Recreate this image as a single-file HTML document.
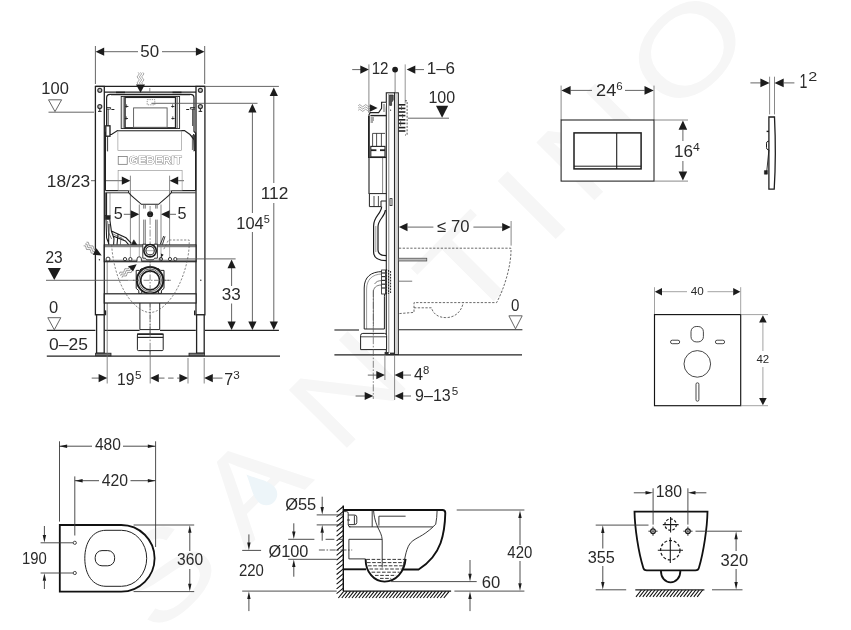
<!DOCTYPE html>
<html lang="en"><head><meta charset="utf-8"><title>Geberit Duofix set – technical drawing</title>
<style>
html,body{margin:0;padding:0;background:#fff;}
body{width:851px;height:630px;overflow:hidden;}
svg{display:block;will-change:transform;font-family:"Liberation Sans",sans-serif;}
</style></head><body>
<svg width="851" height="630" viewBox="0 0 851 630">
<rect width="851" height="630" fill="#fff"/>
<g transform="rotate(-45) scale(1.25,1)"><text x="-232.8 -132.8 -24.0 114.4 184.8 256.0 360.8" y="562" font-size="119" text-anchor="middle" fill="#f6f6f6">SANTINO</text></g>
<g transform="translate(262,490) rotate(-45)"><path d="M0,-22 C5,-10 11,-3 11,6 A11,11 0 1 1 -11,6 C-11,-3 -5,-10 0,-22 Z" fill="#edf5f9"/></g>
<line x1="95.4" y1="46.0" x2="95.4" y2="84.0" stroke="#555" stroke-width="0.9" />
<line x1="204.7" y1="46.0" x2="204.7" y2="84.0" stroke="#555" stroke-width="0.9" />
<line x1="103.0" y1="51.7" x2="138.0" y2="51.7" stroke="#555" stroke-width="0.9" />
<line x1="162.0" y1="51.7" x2="197.0" y2="51.7" stroke="#555" stroke-width="0.9" />
<polygon points="95.6,51.7 104.2,47.6 104.2,55.8" fill="#1c1c1c"/>
<polygon points="204.5,51.7 195.9,47.6 195.9,55.8" fill="#1c1c1c"/>
<text x="149.7" y="56.6" font-size="16.3" text-anchor="middle" textLength="18.8" lengthAdjust="spacingAndGlyphs" fill="#2a2a2a" font-weight="normal">50</text>
<text x="55.1" y="94.1" font-size="16.3" text-anchor="middle" textLength="27.5" lengthAdjust="spacingAndGlyphs" fill="#2a2a2a" font-weight="normal">100</text>
<polygon points="48.5,99.8 61.6,99.8 55.0,111.6" fill="#fff" stroke="#555" stroke-width="0.9"/>
<line x1="48.5" y1="112.2" x2="94.0" y2="112.2" stroke="#555" stroke-width="0.9" />
<line x1="205.6" y1="86.4" x2="278.9" y2="86.4" stroke="#555" stroke-width="0.9" />
<line x1="273.8" y1="95.0" x2="273.8" y2="183.0" stroke="#555" stroke-width="0.9" />
<line x1="273.8" y1="203.0" x2="273.8" y2="322.0" stroke="#555" stroke-width="0.9" />
<polygon points="273.8,87.4 269.7,96.0 277.9,96.0" fill="#1c1c1c"/>
<polygon points="273.8,330.0 269.7,321.4 277.9,321.4" fill="#1c1c1c"/>
<text x="274.5" y="199.2" font-size="16.3" text-anchor="middle" textLength="27.6" lengthAdjust="spacingAndGlyphs" fill="#2a2a2a" font-weight="normal">112</text>
<line x1="252.4" y1="111.0" x2="252.4" y2="213.0" stroke="#555" stroke-width="0.9" />
<line x1="252.4" y1="232.0" x2="252.4" y2="322.0" stroke="#555" stroke-width="0.9" />
<polygon points="252.4,103.8 248.3,112.4 256.5,112.4" fill="#1c1c1c"/>
<polygon points="252.4,330.0 248.3,321.4 256.5,321.4" fill="#1c1c1c"/>
<text x="250.0" y="228.8" font-size="16.3" text-anchor="middle" textLength="27.4" lengthAdjust="spacingAndGlyphs" fill="#2a2a2a" font-weight="normal">104</text>
<text x="266.7" y="223.2" font-size="10" text-anchor="middle" textLength="6.1" lengthAdjust="spacingAndGlyphs" fill="#2a2a2a" font-weight="normal">5</text>
<line x1="231.6" y1="267.0" x2="231.6" y2="286.0" stroke="#555" stroke-width="0.9" />
<line x1="231.6" y1="303.5" x2="231.6" y2="322.0" stroke="#555" stroke-width="0.9" />
<polygon points="231.6,259.6 227.5,268.2 235.7,268.2" fill="#1c1c1c"/>
<polygon points="231.6,330.0 227.5,321.4 235.7,321.4" fill="#1c1c1c"/>
<text x="231.2" y="300.3" font-size="16.3" text-anchor="middle" textLength="19.0" lengthAdjust="spacingAndGlyphs" fill="#2a2a2a" font-weight="normal">33</text>
<line x1="46.8" y1="330.4" x2="95.4" y2="330.4" stroke="#222" stroke-width="1.1" />
<line x1="104.4" y1="330.4" x2="139.6" y2="330.4" stroke="#222" stroke-width="1.1" />
<line x1="160.0" y1="330.4" x2="195.8" y2="330.4" stroke="#222" stroke-width="1.1" />
<line x1="205.0" y1="330.4" x2="278.9" y2="330.4" stroke="#222" stroke-width="1.1" />
<line x1="46.8" y1="356.1" x2="280.0" y2="356.1" stroke="#222" stroke-width="1.1" />
<text x="54.1" y="262.6" font-size="16.3" text-anchor="middle" textLength="17.2" lengthAdjust="spacingAndGlyphs" fill="#2a2a2a" font-weight="normal">23</text>
<polygon points="47.8,267.9 60.8,267.9 54.3,280.0" fill="#1c1c1c"/>
<line x1="128.5" y1="280.3" x2="171.0" y2="280.3" stroke="#555" stroke-width="0.7" stroke-dasharray="6 1.5 1.5 1.5"/>
<text x="53.7" y="313.2" font-size="16.3" text-anchor="middle" textLength="9.2" lengthAdjust="spacingAndGlyphs" fill="#2a2a2a" font-weight="normal">0</text>
<polygon points="47.8,317.7 60.8,317.7 54.3,329.8" fill="#fff" stroke="#555" stroke-width="0.9"/>
<text x="68.5" y="350.4" font-size="16.3" text-anchor="middle" textLength="38.8" lengthAdjust="spacingAndGlyphs" fill="#2a2a2a" font-weight="normal">0–25</text>
<text x="68.5" y="187.2" font-size="16.3" text-anchor="middle" textLength="43.3" lengthAdjust="spacingAndGlyphs" fill="#2a2a2a" font-weight="normal">18/23</text>
<line x1="91.0" y1="180.7" x2="122.0" y2="180.7" stroke="#555" stroke-width="0.9" />
<polygon points="130.4,180.7 121.8,176.6 121.8,184.8" fill="#1c1c1c"/>
<polygon points="169.6,180.7 178.2,176.6 178.2,184.8" fill="#1c1c1c"/>
<line x1="178.0" y1="180.7" x2="184.0" y2="180.7" stroke="#555" stroke-width="0.9" />
<line x1="130.4" y1="175.7" x2="130.4" y2="258.0" stroke="#6a6a6a" stroke-width="0.8" />
<line x1="169.6" y1="175.7" x2="169.6" y2="258.0" stroke="#6a6a6a" stroke-width="0.8" />
<text x="118.2" y="219.4" font-size="16.3" text-anchor="middle" textLength="9.0" lengthAdjust="spacingAndGlyphs" fill="#2a2a2a" font-weight="normal">5</text>
<text x="181.9" y="219.4" font-size="16.3" text-anchor="middle" textLength="9.0" lengthAdjust="spacingAndGlyphs" fill="#2a2a2a" font-weight="normal">5</text>
<line x1="123.8" y1="214.3" x2="131.0" y2="214.3" stroke="#555" stroke-width="0.9" />
<polygon points="139.3,214.3 130.7,210.2 130.7,218.4" fill="#1c1c1c"/>
<polygon points="161.0,214.3 169.6,210.2 169.6,218.4" fill="#1c1c1c"/>
<line x1="169.5" y1="214.3" x2="176.0" y2="214.3" stroke="#555" stroke-width="0.9" />
<circle cx="150.1" cy="214.3" r="3.0" stroke="none" stroke-width="0" fill="#1c1c1c" />
<line x1="139.3" y1="204.5" x2="139.3" y2="258.0" stroke="#6a6a6a" stroke-width="0.8" />
<line x1="161.0" y1="204.5" x2="161.0" y2="258.0" stroke="#6a6a6a" stroke-width="0.8" />
<rect x="95.4" y="86.4" width="8.9" height="228.4" rx="0" stroke="#222" stroke-width="1.3" fill="#fff" />
<rect x="196.0" y="86.4" width="8.9" height="228.4" rx="0" stroke="#222" stroke-width="1.3" fill="#fff" />
<line x1="95.4" y1="86.4" x2="204.9" y2="86.4" stroke="#222" stroke-width="1.3" />
<line x1="104.3" y1="92.1" x2="196.0" y2="92.1" stroke="#222" stroke-width="1.1" />
<rect x="96.6" y="314.8" width="7.6" height="38.4" rx="0" stroke="#222" stroke-width="1.3" fill="#fff" />
<rect x="196.6" y="314.8" width="7.6" height="38.4" rx="0" stroke="#222" stroke-width="1.3" fill="#fff" />
<line x1="104.2" y1="311.0" x2="105.6" y2="311.0" stroke="#222" stroke-width="1.2" />
<line x1="105.6" y1="310.6" x2="105.6" y2="315.2" stroke="#222" stroke-width="1.2" />
<line x1="194.6" y1="310.6" x2="194.6" y2="315.2" stroke="#222" stroke-width="1.2" />
<rect x="95.6" y="353.2" width="15.4" height="2.6" rx="0" stroke="#222" stroke-width="0.8" fill="#777" />
<rect x="189.0" y="353.2" width="15.4" height="2.6" rx="0" stroke="#222" stroke-width="0.8" fill="#777" />
<line x1="107.2" y1="262.0" x2="107.2" y2="383.5" stroke="#6a6a6a" stroke-width="0.8" />
<circle cx="99.8" cy="90.3" r="2.0" stroke="#333" stroke-width="1.2" fill="#c8c8c8" />
<circle cx="99.8" cy="106.6" r="2.0" stroke="#333" stroke-width="1.2" fill="#c8c8c8" />
<line x1="99.8" y1="108.6" x2="99.8" y2="111.4" stroke="#333" stroke-width="1.1" />
<line x1="98.0" y1="111.4" x2="101.6" y2="111.4" stroke="#333" stroke-width="1.1" />
<circle cx="200.4" cy="90.3" r="2.0" stroke="#333" stroke-width="1.2" fill="#c8c8c8" />
<circle cx="200.4" cy="106.6" r="2.0" stroke="#333" stroke-width="1.2" fill="#c8c8c8" />
<line x1="200.4" y1="108.6" x2="200.4" y2="111.4" stroke="#333" stroke-width="1.1" />
<line x1="198.6" y1="111.4" x2="202.2" y2="111.4" stroke="#333" stroke-width="1.1" />
<path d="M105.4,190.6 V133 l1.2,-1.6 V98 q0,-3.6 3.6,-3.6 H190.4 q3.6,0 3.6,3.6 V131.4 l1.6,1.6 V190.6" stroke="#222" stroke-width="1.2" fill="none" />
<line x1="105.4" y1="190.6" x2="128.6" y2="190.6" stroke="#222" stroke-width="1.2" />
<line x1="171.4" y1="190.6" x2="195.6" y2="190.6" stroke="#222" stroke-width="1.2" />
<path d="M128.6,190.6 V192.6 L131.4,195.7 L141.4,204.3 H158.6 L168.6,195.7 L171.4,192.6 V190.6" stroke="#222" stroke-width="1.1" fill="none" />
<line x1="105.4" y1="192.8" x2="128.6" y2="192.8" stroke="#222" stroke-width="0.9" />
<line x1="171.4" y1="192.8" x2="195.6" y2="192.8" stroke="#222" stroke-width="0.9" />
<path d="M107,134.5 L111.5,134.5 L117.5,130.6 H184.5 L190,134.5 L194.5,140" stroke="#222" stroke-width="1.2" fill="none" />
<line x1="111.0" y1="94.6" x2="190.0" y2="94.6" stroke="#222" stroke-width="1.1" />
<rect x="121.2" y="96.5" width="58.4" height="32.0" rx="0" stroke="#222" stroke-width="0.9" fill="#fff" />
<rect x="125.0" y="97.3" width="50.6" height="30.6" rx="0" stroke="#222" stroke-width="1.5" fill="#fff" />
<line x1="123.3" y1="96.5" x2="123.3" y2="128.5" stroke="#555" stroke-width="0.7" />
<line x1="177.5" y1="96.5" x2="177.5" y2="128.5" stroke="#555" stroke-width="0.7" />
<rect x="133.6" y="107.9" width="33.5" height="19.4" rx="0" stroke="#555" stroke-width="0.9" fill="#fff" />
<line x1="125.2" y1="106.5" x2="128.4" y2="106.5" stroke="#222" stroke-width="0.9" />
<line x1="126.6" y1="104.3" x2="126.6" y2="107.7" stroke="#222" stroke-width="0.7" />
<line x1="171.2" y1="106.5" x2="174.4" y2="106.5" stroke="#222" stroke-width="0.9" />
<line x1="172.6" y1="104.3" x2="172.6" y2="107.7" stroke="#222" stroke-width="0.7" />
<line x1="124.8" y1="118.5" x2="128.0" y2="118.5" stroke="#222" stroke-width="0.9" />
<line x1="126.2" y1="116.3" x2="126.2" y2="119.7" stroke="#222" stroke-width="0.7" />
<line x1="171.4" y1="118.5" x2="174.6" y2="118.5" stroke="#222" stroke-width="0.9" />
<line x1="172.8" y1="116.3" x2="172.8" y2="119.7" stroke="#222" stroke-width="0.7" />
<rect x="147.2" y="99.6" width="7.6" height="5.2" rx="0" stroke="#555" stroke-width="0.6" fill="none" stroke-dasharray="1.3 1"/>
<line x1="151.4" y1="103.3" x2="257.5" y2="103.3" stroke="#555" stroke-width="0.9" />
<line x1="116.0" y1="92.4" x2="125.0" y2="92.4" stroke="#222" stroke-width="1.5" />
<line x1="172.5" y1="92.4" x2="181.5" y2="92.4" stroke="#222" stroke-width="1.5" />
<line x1="149.8" y1="88.0" x2="149.8" y2="91.6" stroke="#555" stroke-width="0.7" />
<path d="M106,107.5 h4.6 v1.6 h-4.6 M108.2,109 v17" stroke="#222" stroke-width="0.8" fill="none" />
<path d="M195,107.5 h-4.6 v1.6 h4.6 M192.6,109 v17" stroke="#222" stroke-width="0.8" fill="none" />
<line x1="111.4" y1="109.5" x2="114.4" y2="109.5" stroke="#222" stroke-width="1" />
<line x1="186.2" y1="109.5" x2="189.2" y2="109.5" stroke="#222" stroke-width="1" />
<rect x="105.8" y="125.8" width="4.2" height="10.4" rx="0" stroke="#1c1c1c" stroke-width="1.3" fill="#fff" />
<path d="M107.6,136.4 v15 M105.6,138 v13" stroke="#222" stroke-width="0.9" fill="none" />
<path d="M193.6,134 l1.8,3.6 v12 l-1.4,1.6 z" stroke="#222" stroke-width="0.9" fill="#444" />
<line x1="192.4" y1="135.0" x2="192.4" y2="150.0" stroke="#222" stroke-width="0.7" />
<rect x="117.9" y="130.8" width="63.5" height="19.8" rx="0" stroke="#8a8a8a" stroke-width="0.6" fill="none" />
<rect x="118.1" y="170.3" width="64.0" height="20.3" rx="0" stroke="#8a8a8a" stroke-width="0.6" fill="none" />
<rect x="118.2" y="156.5" width="9.0" height="7.8" rx="0" stroke="#666" stroke-width="0.7" fill="none" />
<text x="155.4" y="164.4" font-size="11.2" font-weight="bold" text-anchor="middle" textLength="53" lengthAdjust="spacingAndGlyphs" fill="#fff" stroke="#555" stroke-width="0.7" paint-order="stroke">GEBERIT</text>
<polygon points="136.0,84.4 145.0,84.4 140.5,92.8" fill="#1c1c1c"/>
<g transform="translate(140.5,84.4) rotate(90)">
<path d="M-12.0,-2.3 q1.5,-2.2 3,0 t3,0 t3,0 t3,0" stroke="#5a5a5a" stroke-width="0.55" fill="none"/>
<path d="M-12.0,0.0 q1.5,-2.2 3,0 t3,0 t3,0 t3,0" stroke="#5a5a5a" stroke-width="0.55" fill="none"/>
<path d="M-12.0,2.3 q1.5,-2.2 3,0 t3,0 t3,0 t3,0" stroke="#5a5a5a" stroke-width="0.55" fill="none"/>
</g>
<line x1="143.8" y1="204.3" x2="143.8" y2="208.6" stroke="#555" stroke-width="0.9" />
<line x1="143.8" y1="219.6" x2="143.8" y2="244.8" stroke="#555" stroke-width="0.9" />
<line x1="145.4" y1="204.3" x2="145.4" y2="208.6" stroke="#555" stroke-width="0.7" />
<line x1="145.4" y1="219.6" x2="145.4" y2="244.8" stroke="#555" stroke-width="0.7" />
<line x1="155.6" y1="204.3" x2="155.6" y2="208.6" stroke="#555" stroke-width="0.7" />
<line x1="155.6" y1="219.6" x2="155.6" y2="244.8" stroke="#555" stroke-width="0.7" />
<line x1="157.1" y1="204.3" x2="157.1" y2="208.6" stroke="#555" stroke-width="0.9" />
<line x1="157.1" y1="219.6" x2="157.1" y2="244.8" stroke="#555" stroke-width="0.9" />
<line x1="150.1" y1="206.0" x2="150.1" y2="356.0" stroke="#666" stroke-width="0.7" stroke-dasharray="7 1.6 1.6 1.6"/>
<line x1="106.2" y1="192.8" x2="106.2" y2="216.0" stroke="#222" stroke-width="1.8" />
<line x1="110.0" y1="193.0" x2="110.0" y2="215.6" stroke="#666" stroke-width="0.6" />
<rect x="105.2" y="215.6" width="5.0" height="3.8" rx="0" stroke="#222" stroke-width="0.6" fill="#222" />
<path d="M106,219.5 L106.6,238 M109.8,219.5 L111.4,231 L114,238.5 M106.6,238 L109,244 M111.4,231 L126,237.8 L131.4,243.4 M113,236 L125.4,241 L128.6,244.6 M109,224 L108.6,244.5 M114,238.5 L113.6,244.6 M118,234.4 L117,244.6" stroke="#1c1c1c" stroke-width="1.1" fill="none" />
<path d="M107.6,221 L108.4,232 L111.6,239 M112.4,233.6 L124,239.6 M121,236.6 L120.4,244.6" stroke="#444" stroke-width="0.7" fill="none" />
<path d="M131.4,244.8 l2.4,-5 l3.2,5 z" stroke="#222" stroke-width="0.6" fill="#1c1c1c" />
<path d="M163.8,236 L160.2,244.4 M165,236.4 L162.4,244.6" stroke="#222" stroke-width="0.9" fill="none" />
<rect x="104.3" y="245.0" width="91.7" height="16.7" rx="0" stroke="#222" stroke-width="1.2" fill="#fff" />
<line x1="104.3" y1="246.7" x2="196.0" y2="246.7" stroke="#222" stroke-width="0.7" />
<line x1="104.3" y1="260.3" x2="196.0" y2="260.3" stroke="#222" stroke-width="0.7" />
<line x1="130.4" y1="245.0" x2="130.4" y2="258.0" stroke="#777" stroke-width="0.6" />
<line x1="139.3" y1="245.0" x2="139.3" y2="258.0" stroke="#777" stroke-width="0.6" />
<line x1="161.0" y1="245.0" x2="161.0" y2="258.0" stroke="#777" stroke-width="0.6" />
<line x1="169.6" y1="245.0" x2="169.6" y2="258.0" stroke="#777" stroke-width="0.6" />
<path d="M142.8,244.2 h3.2 v9 q4,4.4 8,0 v-9 h3.4 v14 h-2.8 l-1.2,1.6 h-6.8 l-1.2,-1.6 h-2.6 z" stroke="#222" stroke-width="0.9" fill="#fff" />
<circle cx="150.1" cy="250.7" r="6.2" stroke="#1c1c1c" stroke-width="1.6" fill="#fff" />
<circle cx="150.1" cy="250.7" r="4.2" stroke="#222" stroke-width="1.1" fill="#fff" />
<line x1="146.0" y1="250.7" x2="154.4" y2="250.7" stroke="#666" stroke-width="0.5" />
<circle cx="108.0" cy="259.1" r="2.0" stroke="#222" stroke-width="0.9" fill="#fff" />
<circle cx="125.0" cy="259.1" r="1.6" stroke="#222" stroke-width="0.9" fill="#fff" />
<circle cx="130.4" cy="259.1" r="1.6" stroke="#222" stroke-width="0.9" fill="#fff" />
<circle cx="160.9" cy="259.1" r="1.7" stroke="#222" stroke-width="0.9" fill="#fff" />
<circle cx="170.0" cy="259.1" r="1.6" stroke="#222" stroke-width="0.9" fill="#fff" />
<circle cx="175.3" cy="259.1" r="1.6" stroke="#222" stroke-width="0.9" fill="#fff" />
<path d="M137,261.4 v-2.4 a2.2,2.2 0 0 1 4.4,0 v2.4" stroke="#222" stroke-width="0.9" fill="#fff" />
<circle cx="160.9" cy="259.1" r="0.8" stroke="none" stroke-width="0" fill="#333" />
<circle cx="99.4" cy="259.8" r="0.7" fill="#333"/>
<circle cx="200.8" cy="280.3" r="0.7" fill="#333"/>
<polygon points="101.7,255.6 96.4,248.2 92.7,254.7" fill="#1c1c1c"/>
<g transform="translate(94.5,251.4) rotate(38)">
<path d="M-12.0,-2.3 q1.5,-2.2 3,0 t3,0 t3,0 t3,0" stroke="#5a5a5a" stroke-width="0.55" fill="none"/>
<path d="M-12.0,0.0 q1.5,-2.2 3,0 t3,0 t3,0 t3,0" stroke="#5a5a5a" stroke-width="0.55" fill="none"/>
<path d="M-12.0,2.3 q1.5,-2.2 3,0 t3,0 t3,0 t3,0" stroke="#5a5a5a" stroke-width="0.55" fill="none"/>
</g>
<polygon points="136.7,264.2 128,266.3 133,271.6" fill="#1c1c1c"/>
<g transform="translate(130.5,268.9) rotate(-35)">
<path d="M-12.0,-2.3 q1.5,-2.2 3,0 t3,0 t3,0 t3,0" stroke="#5a5a5a" stroke-width="0.55" fill="none"/>
<path d="M-12.0,0.0 q1.5,-2.2 3,0 t3,0 t3,0 t3,0" stroke="#5a5a5a" stroke-width="0.55" fill="none"/>
<path d="M-12.0,2.3 q1.5,-2.2 3,0 t3,0 t3,0 t3,0" stroke="#5a5a5a" stroke-width="0.55" fill="none"/>
</g>
<polygon points="161.2,257.4 160.9,253.6 163.6,254.8" fill="#1c1c1c"/>
<line x1="176.7" y1="258.9" x2="235.6" y2="258.9" stroke="#555" stroke-width="0.9" />
<line x1="46.0" y1="280.3" x2="128.5" y2="280.3" stroke="#555" stroke-width="0.9" />
<path d="M136.2,270.4 h3.4 l1.6,-1.6 h17.8 l1.6,1.6 h3.4 v18 l-2.6,2.2 v2.8 h-3 v-2.2 h-16.6 v2.2 h-3 v-2.8 l-2.6,-2.2 z" stroke="#222" stroke-width="1.0" fill="#fff" />
<circle cx="150.1" cy="280.3" r="13.2" stroke="#1c1c1c" stroke-width="2.0" fill="#fff" />
<circle cx="150.1" cy="280.3" r="11.3" stroke="#222" stroke-width="0.7" fill="#fff" />
<circle cx="150.1" cy="280.3" r="9.5" stroke="#1c1c1c" stroke-width="1.7" fill="#fff" />
<line x1="133.0" y1="280.3" x2="171.0" y2="280.3" stroke="#555" stroke-width="0.7" stroke-dasharray="6 1.5 1.5 1.5"/>
<line x1="150.1" y1="264.0" x2="150.1" y2="300.0" stroke="#555" stroke-width="0.7" stroke-dasharray="6 1.5 1.5 1.5"/>
<rect x="104.3" y="293.8" width="91.7" height="9.2" rx="0" stroke="#222" stroke-width="1.2" fill="#fff" />
<path d="M139.9,303 V329.6 H159.7 V303" stroke="#222" stroke-width="1.0" fill="none" />
<line x1="150.1" y1="303.0" x2="150.1" y2="356.0" stroke="#555" stroke-width="0.7" stroke-dasharray="7 1.6 1.6 1.6"/>
<rect x="137.4" y="334.0" width="25.8" height="16.6" rx="1" stroke="#222" stroke-width="1.0" fill="#fff" />
<line x1="137.0" y1="334.2" x2="163.6" y2="334.2" stroke="#222" stroke-width="1.5" />
<line x1="137.4" y1="337.4" x2="163.2" y2="337.4" stroke="#222" stroke-width="1.2" />
<line x1="150.1" y1="331.0" x2="150.1" y2="352.0" stroke="#555" stroke-width="0.7" stroke-dasharray="7 1.6 1.6 1.6"/>
<path d="M111.7,245 C112.5,262 118,283 128,297 C135,306.5 143,312.5 150.1,312.5 C157,312.5 165,306.5 172,297 C182,283 188.6,262 189.2,245 V240 H168.5 L163.4,250" stroke="#555" stroke-width="0.7" fill="none" stroke-dasharray="2.2 1.5"/>
<line x1="150.2" y1="357.0" x2="150.2" y2="383.5" stroke="#6a6a6a" stroke-width="0.8" />
<line x1="188.0" y1="358.0" x2="188.0" y2="383.5" stroke="#6a6a6a" stroke-width="0.8" />
<line x1="204.2" y1="358.0" x2="204.2" y2="383.5" stroke="#6a6a6a" stroke-width="0.8" />
<line x1="91.7" y1="378.1" x2="99.0" y2="378.1" stroke="#555" stroke-width="0.9" />
<polygon points="107.2,378.1 98.6,374.0 98.6,382.2" fill="#1c1c1c"/>
<text x="125.7" y="384.9" font-size="16.3" text-anchor="middle" textLength="17.4" lengthAdjust="spacingAndGlyphs" fill="#2a2a2a" font-weight="normal">19</text>
<text x="138.3" y="379.2" font-size="10" text-anchor="middle" textLength="6.5" lengthAdjust="spacingAndGlyphs" fill="#2a2a2a" font-weight="normal">5</text>
<polygon points="150.2,378.1 158.8,374.0 158.8,382.2" fill="#1c1c1c"/>
<polygon points="188.0,378.1 179.4,374.0 179.4,382.2" fill="#1c1c1c"/>
<line x1="159.0" y1="378.1" x2="180.0" y2="378.1" stroke="#555" stroke-width="0.9" stroke-dasharray="5.5 3.6"/>
<polygon points="204.2,378.1 212.8,374.0 212.8,382.2" fill="#1c1c1c"/>
<line x1="212.6" y1="378.1" x2="222.5" y2="378.1" stroke="#555" stroke-width="0.9" />
<text x="228.8" y="384.9" font-size="16.3" text-anchor="middle" textLength="8.9" lengthAdjust="spacingAndGlyphs" fill="#2a2a2a" font-weight="normal">7</text>
<text x="236.5" y="379.2" font-size="10" text-anchor="middle" textLength="6.5" lengthAdjust="spacingAndGlyphs" fill="#2a2a2a" font-weight="normal">3</text>
<line x1="368.9" y1="64.4" x2="368.9" y2="113.0" stroke="#6a6a6a" stroke-width="0.8" />
<line x1="395.1" y1="69.6" x2="395.1" y2="92.0" stroke="#6a6a6a" stroke-width="0.8" />
<line x1="405.2" y1="64.4" x2="405.2" y2="103.6" stroke="#7a7a7a" stroke-width="0.8" />
<path d="M405,100.8 H407.1 V135 H405" stroke="#444" stroke-width="0.9" fill="none" stroke-dasharray="2 1.4"/>
<line x1="352.2" y1="69.6" x2="361.0" y2="69.6" stroke="#555" stroke-width="0.9" />
<polygon points="368.9,69.6 360.3,65.5 360.3,73.7" fill="#1c1c1c"/>
<text x="380.1" y="74.4" font-size="16.3" text-anchor="middle" textLength="16.8" lengthAdjust="spacingAndGlyphs" fill="#2a2a2a" font-weight="normal">12</text>
<circle cx="395.1" cy="69.6" r="2.9" stroke="none" stroke-width="0" fill="#1c1c1c" />
<polygon points="406.7,69.6 415.3,65.5 415.3,73.7" fill="#1c1c1c"/>
<line x1="415.0" y1="69.6" x2="424.0" y2="69.6" stroke="#555" stroke-width="0.9" />
<text x="440.9" y="74.4" font-size="16.3" text-anchor="middle" textLength="28.4" lengthAdjust="spacingAndGlyphs" fill="#2a2a2a" font-weight="normal">1–6</text>
<text x="441.8" y="102.8" font-size="16.3" text-anchor="middle" textLength="26.7" lengthAdjust="spacingAndGlyphs" fill="#2a2a2a" font-weight="normal">100</text>
<polygon points="436.0,105.8 448.2,105.8 442.1,117.8" fill="#1c1c1c"/>
<line x1="407.8" y1="118.2" x2="449.0" y2="118.2" stroke="#555" stroke-width="0.9" />
<rect x="386.3" y="92.8" width="8.2" height="261.8" rx="0" stroke="#222" stroke-width="1.1" fill="#fff" />
<rect x="394.5" y="92.8" width="3.9" height="261.8" rx="0" stroke="#222" stroke-width="0.9" fill="#d4d4d4" />
<line x1="388.8" y1="94.0" x2="388.8" y2="353.0" stroke="#555" stroke-width="0.7" />
<path d="M389.6,95 h3.6 v5 l-1.6,2.4 v3 h-2 z" stroke="#222" stroke-width="0.7" fill="#555" />
<circle cx="390.6" cy="110.2" r="0.6" fill="#333"/>
<line x1="398.6" y1="104.8" x2="405.4" y2="104.8" stroke="#222" stroke-width="1.6" />
<line x1="398.6" y1="108.4" x2="405.4" y2="108.4" stroke="#222" stroke-width="1.6" />
<line x1="398.6" y1="112.0" x2="405.4" y2="112.0" stroke="#222" stroke-width="1.6" />
<line x1="398.6" y1="115.6" x2="405.4" y2="115.6" stroke="#222" stroke-width="1.6" />
<line x1="398.6" y1="119.8" x2="405.4" y2="119.8" stroke="#222" stroke-width="1.6" />
<line x1="398.6" y1="123.4" x2="405.4" y2="123.4" stroke="#222" stroke-width="1.6" />
<line x1="398.6" y1="127.6" x2="405.4" y2="127.6" stroke="#222" stroke-width="1.6" />
<line x1="398.6" y1="131.0" x2="405.4" y2="131.0" stroke="#222" stroke-width="1.6" />
<path d="M401.5,106 v4 M402.6,114 v4 M400.6,121 v5" stroke="#444" stroke-width="0.7" fill="none" />
<polygon points="377.6,108.0 369.8,104.2 369.8,111.8" fill="#1c1c1c"/>
<g transform="translate(370.2,108.0) rotate(0)">
<path d="M-12.0,-2.3 q1.5,-2.2 3,0 t3,0 t3,0 t3,0" stroke="#5a5a5a" stroke-width="0.55" fill="none"/>
<path d="M-12.0,0.0 q1.5,-2.2 3,0 t3,0 t3,0 t3,0" stroke="#5a5a5a" stroke-width="0.55" fill="none"/>
<path d="M-12.0,2.3 q1.5,-2.2 3,0 t3,0 t3,0 t3,0" stroke="#5a5a5a" stroke-width="0.55" fill="none"/>
</g>
<path d="M386.3,102.2 H381.6 V108.4 L378.6,112.6 H370.2 L369,114.6 V194" stroke="#222" stroke-width="1.1" fill="#fff" />
<line x1="384.0" y1="104.0" x2="384.0" y2="112.0" stroke="#222" stroke-width="0.7" />
<line x1="370.4" y1="115.6" x2="386.3" y2="115.6" stroke="#222" stroke-width="1.4" />
<line x1="370.6" y1="118.0" x2="374.0" y2="118.0" stroke="#222" stroke-width="0.8" />
<line x1="370.6" y1="120.0" x2="374.0" y2="120.0" stroke="#222" stroke-width="0.8" />
<line x1="370.6" y1="122.0" x2="373.0" y2="122.0" stroke="#222" stroke-width="0.8" />
<path d="M372.6,133.4 H385 M372.6,133.4 V146 M376.6,133.4 V146 M381.4,133.4 V146" stroke="#222" stroke-width="0.8" fill="none" />
<line x1="368.8" y1="116.0" x2="368.8" y2="158.0" stroke="#222" stroke-width="1.6" />
<rect x="370.8" y="146.4" width="14.2" height="10.6" rx="0" stroke="#222" stroke-width="1.1" fill="#fff" />
<line x1="371.0" y1="150.2" x2="385.0" y2="150.2" stroke="#222" stroke-width="1.8" />
<rect x="376.4" y="148.6" width="3.6" height="3.2" rx="0" stroke="none" stroke-width="0" fill="#fff" />
<line x1="369.4" y1="157.4" x2="386.3" y2="157.4" stroke="#222" stroke-width="1.3" />
<line x1="382.6" y1="158.0" x2="382.6" y2="193.0" stroke="#555" stroke-width="0.7" />
<path d="M369.4,193.6 H386.3 M369.4,193.6 V206.6 H381 V201 H386" stroke="#222" stroke-width="1.0" fill="none" />
<line x1="374.0" y1="196.0" x2="374.0" y2="206.6" stroke="#222" stroke-width="0.8" />
<line x1="378.4" y1="196.0" x2="378.4" y2="206.6" stroke="#222" stroke-width="0.8" />
<rect x="390.0" y="198.6" width="2.0" height="7.0" rx="0" stroke="#222" stroke-width="0.8" fill="#fff" />
<path d="M381.6,206.6 C381.6,214 373.6,216 373.6,226 V252 C373.6,258 378,260.6 386.3,260.6" stroke="#1c1c1c" stroke-width="1.2" fill="none" />
<path d="M385.4,210 C385,217 378,219 378,227 V250 C378,254 381,255.6 386.3,255.6" stroke="#1c1c1c" stroke-width="1.2" fill="none" />
<path d="M375.8,226 V252" stroke="#555" stroke-width="0.6" fill="none" />
<polygon points="398.9,227.1 407.5,223.0 407.5,231.2" fill="#1c1c1c"/>
<line x1="407.5" y1="227.1" x2="433.4" y2="227.1" stroke="#555" stroke-width="0.9" />
<text x="453.4" y="231.5" font-size="16.3" text-anchor="middle" textLength="32.2" lengthAdjust="spacingAndGlyphs" fill="#2a2a2a" font-weight="normal">≤ 70</text>
<line x1="473.4" y1="227.1" x2="502.4" y2="227.1" stroke="#555" stroke-width="0.9" />
<polygon points="510.8,227.1 502.2,223.0 502.2,231.2" fill="#1c1c1c"/>
<line x1="511.1" y1="221.0" x2="511.1" y2="245.6" stroke="#6a6a6a" stroke-width="0.8" />
<path d="M398.9,248.2 H511 C511.4,266 504,289 496.6,302.6 H414 V312.4 L399,313.6 M414,307.8 H431.5 C433,313.6 438,317.6 445.8,317.6 C454,317.6 461,313 463.3,302.6" stroke="#444" stroke-width="0.8" fill="none" stroke-dasharray="2.3 1.5"/>
<rect x="398.4" y="258.2" width="28.4" height="2.8" rx="0" stroke="#444" stroke-width="0.7" fill="#bbb" />
<line x1="398.4" y1="281.2" x2="412.2" y2="281.2" stroke="#555" stroke-width="0.8" />
<path d="M364.2,329 V288 C364.2,277 371,271.6 382.4,271.6 H386.3 M384.4,329 V296.6 C384.4,294 385,293 386.3,293" stroke="#222" stroke-width="1.0" fill="none" />
<path d="M366.6,329 V289 C366.6,280 372,274 382.4,274" stroke="#555" stroke-width="0.6" fill="none" />
<path d="M374.6,284 C376,281.6 378.4,280.6 381.6,280.6 M373.4,326 V292 C373.4,288 376,285 381.6,285" stroke="#444" stroke-width="0.7" fill="none" />
<rect x="381.6" y="270.0" width="4.0" height="24.0" rx="0" stroke="#222" stroke-width="0.8" fill="#fff" />
<line x1="381.8" y1="273.0" x2="385.4" y2="273.0" stroke="#333" stroke-width="1.2" />
<line x1="381.8" y1="276.6" x2="385.4" y2="276.6" stroke="#333" stroke-width="1.2" />
<line x1="381.8" y1="280.4" x2="385.4" y2="280.4" stroke="#333" stroke-width="1.2" />
<line x1="381.8" y1="284.2" x2="385.4" y2="284.2" stroke="#333" stroke-width="1.2" />
<line x1="381.8" y1="288.0" x2="385.4" y2="288.0" stroke="#333" stroke-width="1.2" />
<path d="M386.6,269 v26 M388.6,270 v24 M390.6,271 v22" stroke="#222" stroke-width="1.0" fill="none" stroke-dasharray="1.8 1.1"/>
<line x1="364.2" y1="329.0" x2="384.4" y2="329.0" stroke="#222" stroke-width="1.0" />
<path d="M360.6,349.6 V335.6 Q360.6,333.4 362.8,333.4 H384.4 Q386.6,333.4 386.6,335.6 V349.6 Z" stroke="#222" stroke-width="1.0" fill="#fff" />
<line x1="360.6" y1="336.8" x2="386.6" y2="336.8" stroke="#222" stroke-width="0.8" />
<line x1="334.4" y1="330.0" x2="359.0" y2="330.0" stroke="#222" stroke-width="1.1" />
<line x1="398.9" y1="329.8" x2="522.4" y2="329.8" stroke="#222" stroke-width="1.1" />
<line x1="334.4" y1="354.9" x2="522.0" y2="354.9" stroke="#222" stroke-width="1.1" />
<rect x="384.6" y="352.0" width="4.0" height="2.6" rx="0" stroke="none" stroke-width="0" fill="#333" />
<rect x="390.0" y="352.6" width="4.4" height="2.0" rx="0" stroke="none" stroke-width="0" fill="#333" />
<text x="515.3" y="311.0" font-size="16.3" text-anchor="middle" textLength="8.4" lengthAdjust="spacingAndGlyphs" fill="#2a2a2a" font-weight="normal">0</text>
<polygon points="508.9,315.8 522.2,315.8 515.5,328.8" fill="#fff" stroke="#555" stroke-width="0.9"/>
<line x1="373.3" y1="290.0" x2="373.3" y2="399.0" stroke="#555" stroke-width="0.7" stroke-dasharray="7 1.6 1.6 1.6"/>
<line x1="384.9" y1="355.5" x2="384.9" y2="380.0" stroke="#6a6a6a" stroke-width="0.8" />
<line x1="394.6" y1="355.5" x2="394.6" y2="400.0" stroke="#6a6a6a" stroke-width="0.8" />
<line x1="367.8" y1="375.1" x2="377.0" y2="375.1" stroke="#555" stroke-width="0.9" />
<polygon points="384.9,375.1 376.3,371.0 376.3,379.2" fill="#1c1c1c"/>
<polygon points="394.6,375.1 403.2,371.0 403.2,379.2" fill="#1c1c1c"/>
<line x1="403.0" y1="375.1" x2="411.0" y2="375.1" stroke="#555" stroke-width="0.9" />
<text x="418.4" y="380.0" font-size="16.3" text-anchor="middle" textLength="9.0" lengthAdjust="spacingAndGlyphs" fill="#2a2a2a" font-weight="normal">4</text>
<text x="426.1" y="374.4" font-size="10" text-anchor="middle" textLength="6.3" lengthAdjust="spacingAndGlyphs" fill="#2a2a2a" font-weight="normal">8</text>
<line x1="355.6" y1="396.0" x2="365.0" y2="396.0" stroke="#555" stroke-width="0.9" />
<polygon points="373.3,396.0 364.7,391.9 364.7,400.1" fill="#1c1c1c"/>
<polygon points="394.6,396.0 403.2,391.9 403.2,400.1" fill="#1c1c1c"/>
<line x1="403.0" y1="396.0" x2="411.0" y2="396.0" stroke="#555" stroke-width="0.9" />
<text x="432.9" y="401.0" font-size="16.3" text-anchor="middle" textLength="35.6" lengthAdjust="spacingAndGlyphs" fill="#2a2a2a" font-weight="normal">9–13</text>
<text x="454.9" y="395.4" font-size="10" text-anchor="middle" textLength="6.5" lengthAdjust="spacingAndGlyphs" fill="#2a2a2a" font-weight="normal">5</text>
<line x1="561.1" y1="85.6" x2="561.1" y2="120.0" stroke="#6a6a6a" stroke-width="0.8" />
<line x1="654.0" y1="85.6" x2="654.0" y2="120.0" stroke="#6a6a6a" stroke-width="0.8" />
<polygon points="561.4,90.4 570.6,86.1 570.6,94.7" fill="#1c1c1c"/>
<polygon points="653.7,90.4 644.5,86.1 644.5,94.7" fill="#1c1c1c"/>
<line x1="570.0" y1="90.4" x2="592.0" y2="90.4" stroke="#555" stroke-width="0.9" />
<line x1="625.0" y1="90.4" x2="645.0" y2="90.4" stroke="#555" stroke-width="0.9" />
<text x="606.2" y="95.5" font-size="16.3" text-anchor="middle" textLength="20.2" lengthAdjust="spacingAndGlyphs" fill="#2a2a2a" font-weight="normal">24</text>
<text x="619.5" y="89.8" font-size="10" text-anchor="middle" textLength="6.4" lengthAdjust="spacingAndGlyphs" fill="#2a2a2a" font-weight="normal">6</text>
<rect x="561.1" y="120.0" width="92.9" height="61.1" rx="0" stroke="#1e1e1e" stroke-width="1.05" fill="#fff" />
<rect x="574.0" y="132.9" width="67.1" height="36.0" rx="0" stroke="#1e1e1e" stroke-width="1.5" fill="#fff" />
<line x1="616.7" y1="132.9" x2="616.7" y2="168.9" stroke="#1e1e1e" stroke-width="1.1" />
<line x1="574.0" y1="166.2" x2="641.1" y2="166.2" stroke="#1e1e1e" stroke-width="1.0" />
<line x1="654.0" y1="120.0" x2="688.0" y2="120.0" stroke="#6a6a6a" stroke-width="0.8" />
<line x1="654.0" y1="181.1" x2="688.0" y2="181.1" stroke="#6a6a6a" stroke-width="0.8" />
<polygon points="682.9,120.6 678.6,129.8 687.2,129.8" fill="#1c1c1c"/>
<polygon points="682.9,180.6 678.6,171.4 687.2,171.4" fill="#1c1c1c"/>
<line x1="682.9" y1="129.0" x2="682.9" y2="141.0" stroke="#555" stroke-width="0.9" />
<line x1="682.9" y1="161.0" x2="682.9" y2="172.0" stroke="#555" stroke-width="0.9" />
<text x="683.4" y="157.2" font-size="16.3" text-anchor="middle" textLength="19.0" lengthAdjust="spacingAndGlyphs" fill="#2a2a2a" font-weight="normal">16</text>
<text x="696.4" y="151.0" font-size="10" text-anchor="middle" textLength="6.8" lengthAdjust="spacingAndGlyphs" fill="#2a2a2a" font-weight="normal">4</text>
<line x1="769.6" y1="76.7" x2="769.6" y2="114.4" stroke="#6a6a6a" stroke-width="0.8" />
<line x1="774.5" y1="76.7" x2="774.5" y2="114.4" stroke="#6a6a6a" stroke-width="0.8" />
<line x1="750.4" y1="82.9" x2="761.0" y2="82.9" stroke="#555" stroke-width="0.9" />
<polygon points="769.6,82.9 760.4,78.6 760.4,87.2" fill="#1c1c1c"/>
<polygon points="774.5,82.9 783.7,78.6 783.7,87.2" fill="#1c1c1c"/>
<line x1="783.5" y1="82.9" x2="794.4" y2="82.9" stroke="#555" stroke-width="0.9" />
<text x="803.5" y="88.3" font-size="19.5" text-anchor="middle" textLength="7.9" lengthAdjust="spacingAndGlyphs" fill="#2a2a2a" font-weight="normal">1</text>
<text x="812.8" y="81.0" font-size="12.5" text-anchor="middle" textLength="9.0" lengthAdjust="spacingAndGlyphs" fill="#2a2a2a" font-weight="normal">2</text>
<path d="M768.9,117 H774.5 C775.6,140 775.6,166 774.2,189.2 H768.9 Z" stroke="#1e1e1e" stroke-width="1.3" fill="#fff" />
<path d="M766.6,131.4 h2.3" stroke="#1e1e1e" stroke-width="1.4" fill="none" />
<path d="M768.9,141.2 h-1 q-1.4,0.6 -1.4,2 v4.4 q0,1.6 1.4,2.2 h1" stroke="#1e1e1e" stroke-width="1.0" fill="none" />
<path d="M768.9,150 L766.8,171" stroke="#1e1e1e" stroke-width="0.9" fill="none" />
<path d="M764.4,170.6 h3 v3.6 h-3 z" stroke="#1e1e1e" stroke-width="0.6" fill="#1e1e1e" />
<line x1="654.5" y1="287.2" x2="654.5" y2="314.0" stroke="#8a8a8a" stroke-width="0.8" />
<line x1="740.7" y1="287.2" x2="740.7" y2="314.0" stroke="#8a8a8a" stroke-width="0.8" />
<polygon points="654.8,291.7 662.0,287.9 662.0,295.5" fill="#1c1c1c"/>
<polygon points="740.4,291.7 733.2,287.9 733.2,295.5" fill="#1c1c1c"/>
<line x1="662.0" y1="291.7" x2="687.0" y2="291.7" stroke="#8a8a8a" stroke-width="0.8" />
<line x1="707.5" y1="291.7" x2="733.0" y2="291.7" stroke="#8a8a8a" stroke-width="0.8" />
<text x="697.3" y="295.4" font-size="10.6" text-anchor="middle" textLength="13.0" lengthAdjust="spacingAndGlyphs" fill="#2a2a2a" font-weight="normal">40</text>
<rect x="654.5" y="314.6" width="86.2" height="91.1" rx="0" stroke="#141414" stroke-width="1.15" fill="#fff" />
<line x1="740.7" y1="314.6" x2="768.0" y2="314.6" stroke="#8a8a8a" stroke-width="0.8" />
<line x1="740.7" y1="405.7" x2="768.0" y2="405.7" stroke="#8a8a8a" stroke-width="0.8" />
<polygon points="762.9,315.2 759.1,322.4 766.7,322.4" fill="#1c1c1c"/>
<polygon points="762.9,405.2 759.1,398.0 766.7,398.0" fill="#1c1c1c"/>
<line x1="762.9" y1="322.0" x2="762.9" y2="351.0" stroke="#8a8a8a" stroke-width="0.8" />
<line x1="762.9" y1="367.0" x2="762.9" y2="398.0" stroke="#8a8a8a" stroke-width="0.8" />
<text x="762.8" y="362.8" font-size="10.6" text-anchor="middle" textLength="12.8" lengthAdjust="spacingAndGlyphs" fill="#2a2a2a" font-weight="normal">42</text>
<rect x="691.0" y="326.5" width="12.4" height="15.4" rx="5.2" stroke="#333" stroke-width="0.9" fill="none" />
<rect x="670.5" y="340.2" width="9.2" height="3.5" rx="1.75" stroke="#333" stroke-width="0.9" fill="none" />
<rect x="715.4" y="340.2" width="9.2" height="3.5" rx="1.75" stroke="#333" stroke-width="0.9" fill="none" />
<circle cx="697.3" cy="363.9" r="13.3" stroke="#333" stroke-width="0.9" fill="none" />
<rect x="696.0" y="382.8" width="2.9" height="18.4" rx="1.4" stroke="#333" stroke-width="0.9" fill="none" />
<path d="M59.8,525 H121.2 A33.4,33.3 0 0 1 121.2,591.6 H59.8 Z" stroke="#111" stroke-width="1.8" fill="#fff" />
<line x1="59.5" y1="441.3" x2="59.5" y2="521.6" stroke="#3a3a3a" stroke-width="0.9" />
<line x1="155.6" y1="441.3" x2="155.6" y2="547.0" stroke="#3a3a3a" stroke-width="0.9" />
<line x1="59.3" y1="446.2" x2="92.0" y2="446.2" stroke="#3a3a3a" stroke-width="0.9" />
<line x1="123.0" y1="446.2" x2="155.6" y2="446.2" stroke="#3a3a3a" stroke-width="0.9" />
<polygon points="59.5,446.2 67.1,444.5 67.1,447.9" fill="#1c1c1c"/>
<polygon points="155.4,446.2 147.8,444.5 147.8,447.9" fill="#1c1c1c"/>
<text x="107.9" y="450.1" font-size="16" text-anchor="middle" textLength="26.0" lengthAdjust="spacingAndGlyphs" fill="#2a2a2a" font-weight="normal">480</text>
<line x1="74.8" y1="476.4" x2="74.8" y2="535.5" stroke="#3a3a3a" stroke-width="0.9" />
<line x1="74.8" y1="480.7" x2="99.0" y2="480.7" stroke="#3a3a3a" stroke-width="0.9" />
<line x1="130.5" y1="480.7" x2="155.6" y2="480.7" stroke="#3a3a3a" stroke-width="0.9" />
<polygon points="75.0,480.7 82.6,479.0 82.6,482.4" fill="#1c1c1c"/>
<polygon points="155.4,480.7 147.8,479.0 147.8,482.4" fill="#1c1c1c"/>
<text x="115.0" y="485.9" font-size="16" text-anchor="middle" textLength="26.3" lengthAdjust="spacingAndGlyphs" fill="#2a2a2a" font-weight="normal">420</text>
<path d="M106,530.3 H121.5 A25.2,28 0 0 1 121.5,586.3 H106 C93,586.3 84.8,575 84.8,558.3 C84.8,541.6 93,530.3 106,530.3 Z" stroke="#222" stroke-width="1.0" fill="none" />
<rect x="95.2" y="550.6" width="19.4" height="15.2" rx="6.8" stroke="#222" stroke-width="1.0" fill="none" />
<circle cx="74.8" cy="542.8" r="1.6" stroke="#222" stroke-width="0.8" fill="#fff" />
<circle cx="74.8" cy="573.0" r="1.6" stroke="#222" stroke-width="0.8" fill="#fff" />
<line x1="40.6" y1="542.8" x2="73.0" y2="542.8" stroke="#3a3a3a" stroke-width="0.9" />
<line x1="40.6" y1="573.0" x2="73.0" y2="573.0" stroke="#3a3a3a" stroke-width="0.9" />
<line x1="44.4" y1="526.0" x2="44.4" y2="535.5" stroke="#3a3a3a" stroke-width="0.9" />
<polygon points="44.4,542.6 42.7,535.0 46.1,535.0" fill="#1c1c1c"/>
<polygon points="44.4,573.2 42.7,580.8 46.1,580.8" fill="#1c1c1c"/>
<line x1="44.4" y1="580.6" x2="44.4" y2="589.0" stroke="#3a3a3a" stroke-width="0.9" />
<text x="34.3" y="564.3" font-size="16" text-anchor="middle" textLength="24.8" lengthAdjust="spacingAndGlyphs" fill="#2a2a2a" font-weight="normal">190</text>
<line x1="133.6" y1="525.0" x2="194.2" y2="525.0" stroke="#3a3a3a" stroke-width="0.9" />
<line x1="133.6" y1="591.6" x2="194.2" y2="591.6" stroke="#3a3a3a" stroke-width="0.9" />
<line x1="189.8" y1="531.6" x2="189.8" y2="551.0" stroke="#3a3a3a" stroke-width="0.9" />
<line x1="189.8" y1="569.0" x2="189.8" y2="584.4" stroke="#3a3a3a" stroke-width="0.9" />
<polygon points="189.8,525.2 188.1,532.8 191.5,532.8" fill="#1c1c1c"/>
<polygon points="189.8,591.3 188.1,583.7 191.5,583.7" fill="#1c1c1c"/>
<text x="190.1" y="565.2" font-size="16" text-anchor="middle" textLength="26.0" lengthAdjust="spacingAndGlyphs" fill="#2a2a2a" font-weight="normal">360</text>
<line x1="343.3" y1="505.6" x2="343.3" y2="591.1" stroke="#111" stroke-width="1.4" />
<line x1="343.3" y1="591.1" x2="451.1" y2="591.1" stroke="#111" stroke-width="1.4" />
<path d="M336.6,512.1 L343.3,506.5 M336.6,516.9 L343.3,511.3 M336.6,521.7 L343.3,516.1 M336.6,526.5 L343.3,520.9 M336.6,531.3 L343.3,525.7 M336.6,536.1 L343.3,530.5 M336.6,540.9 L343.3,535.3 M336.6,545.7 L343.3,540.1 M336.6,550.5 L343.3,544.9 M336.6,555.3 L343.3,549.7 M336.6,560.1 L343.3,554.5 M336.6,564.9 L343.3,559.3 M336.6,569.7 L343.3,564.1 M336.6,574.5 L343.3,568.9 M336.6,579.3 L343.3,573.7 M336.6,584.1 L343.3,578.5 M336.6,588.9 L343.3,583.3 M336.6,593.7 L343.3,588.1 M338.4,598.0 L343.7,591.3 M341.8,598.0 L347.1,591.3 M345.2,598.0 L350.5,591.3 M348.6,598.0 L353.9,591.3 M352.0,598.0 L357.3,591.3 M355.4,598.0 L360.7,591.3 M358.8,598.0 L364.1,591.3 M362.2,598.0 L367.5,591.3 M365.6,598.0 L370.9,591.3 M369.0,598.0 L374.3,591.3 M372.4,598.0 L377.7,591.3 M375.8,598.0 L381.1,591.3 M379.2,598.0 L384.5,591.3 M382.6,598.0 L387.9,591.3 M386.0,598.0 L391.3,591.3 M389.4,598.0 L394.7,591.3 M392.8,598.0 L398.1,591.3 M396.2,598.0 L401.5,591.3 M399.6,598.0 L404.9,591.3 M403.0,598.0 L408.3,591.3 M406.4,598.0 L411.7,591.3 M409.8,598.0 L415.1,591.3 M413.2,598.0 L418.5,591.3 M416.6,598.0 L421.9,591.3 M420.0,598.0 L425.3,591.3 M423.4,598.0 L428.7,591.3 M426.8,598.0 L432.1,591.3 M430.2,598.0 L435.5,591.3 M433.6,598.0 L438.9,591.3 M437.0,598.0 L442.3,591.3 M440.4,598.0 L445.7,591.3 M443.8,598.0 L449.1,591.3" stroke="#111" stroke-width="1.1" fill="none" />
<path d="M343.3,510 H442.4 Q445.3,510 445.3,513 C445,526 443.4,535 440.6,543 C436.6,554 428,563.6 418.6,569.5 H402.4" stroke="#111" stroke-width="1.9" fill="none" />
<path d="M343.3,569.3 H366.2" stroke="#111" stroke-width="1.9" fill="none" />
<path d="M365.6,558.9 C365.6,572 374,581.6 384.6,581.6 C396,581.6 404.4,572 405.6,558.9" stroke="#111" stroke-width="1.9" fill="none" />
<path d="M372.2,510.5 V526.9 M348.9,526.9 H432.9 L435.7,524.3 C436.6,520 437,515 437.1,510.8" stroke="#222" stroke-width="0.9" fill="none" />
<path d="M378.9,525.6 V516.2 H405.6" stroke="#222" stroke-width="0.9" fill="none" />
<path d="M373.6,511 C374.4,520 377,526 379.6,531 C381.6,535 382.2,538 382.2,541 V567.5" stroke="#222" stroke-width="0.9" fill="none" />
<path d="M432.9,527.1 C428,531.5 423.6,534.6 419.4,536.8 C414.6,539.4 410.4,541.6 408.4,546.2 C406.2,551 405.6,554.6 404.6,559.4 C404,563 403.4,565.6 402.6,568.6" stroke="#222" stroke-width="0.9" fill="none" />
<path d="M382.2,539.3 H348.9 V558.9 H365.6" stroke="#222" stroke-width="0.9" fill="none" />
<path d="M344,511.6 h2.6 q1.6,0 1.6,1.6 v11.4 q0,2.2 2.2,2.2 M348.4,515 h6 q2.4,0 2.4,2 v5.6 q0,2 -2.4,2 h-6 M354.4,515.4 v9 M347,520 h3" stroke="#222" stroke-width="0.9" fill="none" />
<path d="M366.4,559.4 H404.8 M367.0,562.6 H404.2 M368.0,565.8 H403.2 M369.4,569 H401.8 M371.6,572.2 H399.6 M375.0,575.4 H396.2 M380.0,578.4 H391.2" stroke="#222" stroke-width="0.9" fill="none" stroke-dasharray="3.6 1.6"/>
<text x="300.7" y="510.0" font-size="15.6" text-anchor="middle" textLength="31.1" lengthAdjust="spacingAndGlyphs" fill="#2a2a2a" font-weight="normal">Ø55</text>
<line x1="322.2" y1="496.7" x2="322.2" y2="508.0" stroke="#3a3a3a" stroke-width="0.9" />
<polygon points="322.2,514.6 320.5,507.0 323.9,507.0" fill="#1c1c1c"/>
<line x1="316.7" y1="514.9" x2="343.3" y2="514.9" stroke="#3a3a3a" stroke-width="0.9" />
<line x1="316.7" y1="524.9" x2="343.3" y2="524.9" stroke="#3a3a3a" stroke-width="0.9" />
<polygon points="322.2,525.1 320.5,532.7 323.9,532.7" fill="#1c1c1c"/>
<line x1="322.2" y1="532.0" x2="322.2" y2="540.7" stroke="#3a3a3a" stroke-width="0.9" />
<text x="288.5" y="556.6" font-size="15.6" text-anchor="middle" textLength="39.9" lengthAdjust="spacingAndGlyphs" fill="#2a2a2a" font-weight="normal">Ø100</text>
<line x1="293.8" y1="523.3" x2="293.8" y2="532.0" stroke="#3a3a3a" stroke-width="0.9" />
<polygon points="293.8,539.1 292.1,531.5 295.5,531.5" fill="#1c1c1c"/>
<line x1="288.2" y1="539.3" x2="314.4" y2="539.3" stroke="#3a3a3a" stroke-width="0.9" />
<line x1="325.6" y1="539.3" x2="334.4" y2="539.3" stroke="#3a3a3a" stroke-width="0.9" />
<line x1="338.0" y1="539.3" x2="343.3" y2="539.3" stroke="#3a3a3a" stroke-width="0.9" />
<line x1="288.2" y1="559.3" x2="336.7" y2="559.3" stroke="#3a3a3a" stroke-width="0.9" />
<polygon points="293.8,559.5 292.1,567.1 295.5,567.1" fill="#1c1c1c"/>
<line x1="293.8" y1="567.0" x2="293.8" y2="576.7" stroke="#3a3a3a" stroke-width="0.9" />
<line x1="318.9" y1="550.0" x2="352.2" y2="550.0" stroke="#333" stroke-width="0.8" stroke-dasharray="6 1.6 1.6 1.6"/>
<text x="251.4" y="576.1" font-size="15.6" text-anchor="middle" textLength="24.9" lengthAdjust="spacingAndGlyphs" fill="#2a2a2a" font-weight="normal">220</text>
<line x1="248.9" y1="534.4" x2="248.9" y2="543.0" stroke="#3a3a3a" stroke-width="0.9" />
<polygon points="248.9,550.2 247.2,542.6 250.6,542.6" fill="#1c1c1c"/>
<line x1="242.2" y1="550.4" x2="261.1" y2="550.4" stroke="#3a3a3a" stroke-width="0.9" />
<line x1="242.2" y1="591.1" x2="336.7" y2="591.1" stroke="#3a3a3a" stroke-width="0.9" />
<polygon points="248.9,591.4 247.2,599.0 250.6,599.0" fill="#1c1c1c"/>
<line x1="248.9" y1="599.0" x2="248.9" y2="611.1" stroke="#3a3a3a" stroke-width="0.9" />
<line x1="456.7" y1="510.0" x2="524.4" y2="510.0" stroke="#3a3a3a" stroke-width="0.9" />
<line x1="454.4" y1="591.1" x2="524.4" y2="591.1" stroke="#3a3a3a" stroke-width="0.9" />
<line x1="520.0" y1="518.0" x2="520.0" y2="545.0" stroke="#3a3a3a" stroke-width="0.9" />
<line x1="520.0" y1="561.0" x2="520.0" y2="583.5" stroke="#3a3a3a" stroke-width="0.9" />
<polygon points="520.0,510.4 518.3,518.0 521.7,518.0" fill="#1c1c1c"/>
<polygon points="520.0,590.8 518.3,583.2 521.7,583.2" fill="#1c1c1c"/>
<text x="519.8" y="558.3" font-size="16" text-anchor="middle" textLength="24.9" lengthAdjust="spacingAndGlyphs" fill="#2a2a2a" font-weight="normal">420</text>
<line x1="391.1" y1="581.6" x2="476.7" y2="581.6" stroke="#3a3a3a" stroke-width="0.9" />
<line x1="470.0" y1="560.0" x2="470.0" y2="574.0" stroke="#3a3a3a" stroke-width="0.9" />
<polygon points="470.0,581.4 468.3,573.8 471.7,573.8" fill="#1c1c1c"/>
<polygon points="470.0,591.4 468.3,599.0 471.7,599.0" fill="#1c1c1c"/>
<line x1="470.0" y1="599.0" x2="470.0" y2="611.1" stroke="#3a3a3a" stroke-width="0.9" />
<text x="491.0" y="587.6" font-size="16" text-anchor="middle" textLength="18.5" lengthAdjust="spacingAndGlyphs" fill="#2a2a2a" font-weight="normal">60</text>
<path d="M634.5,511.6 H707.5 C707.2,528 703.6,552 699,567.6 Q698.4,570.4 695.4,570.4 H646.8 Q643.8,570.4 643.2,567.6 C638.4,552 634.8,528 634.5,511.6 Z" stroke="#111" stroke-width="1.8" fill="#fff" />
<path d="M660.9,570.4 C660.9,578 665.2,582.3 670.6,582.3 C676,582.3 680.4,578 680.4,570.4" stroke="#111" stroke-width="1.8" fill="none" />
<line x1="653.1" y1="488.3" x2="653.1" y2="524.6" stroke="#3a3a3a" stroke-width="0.9" />
<line x1="687.9" y1="488.3" x2="687.9" y2="524.6" stroke="#3a3a3a" stroke-width="0.9" />
<line x1="633.8" y1="492.8" x2="646.0" y2="492.8" stroke="#3a3a3a" stroke-width="0.9" />
<polygon points="653.1,492.8 645.5,491.1 645.5,494.5" fill="#1c1c1c"/>
<polygon points="687.9,492.8 695.5,491.1 695.5,494.5" fill="#1c1c1c"/>
<line x1="695.0" y1="492.8" x2="706.4" y2="492.8" stroke="#3a3a3a" stroke-width="0.9" />
<text x="668.9" y="497.3" font-size="16" text-anchor="middle" textLength="26.4" lengthAdjust="spacingAndGlyphs" fill="#2a2a2a" font-weight="normal">180</text>
<circle cx="670.6" cy="524.6" r="5.7" stroke="#1c1c1c" stroke-width="1.25" fill="none" stroke-dasharray="2.6 1.7"/>
<path d="M670.6,517 V532.4 M662.8,524.6 H678.6" stroke="#1c1c1c" stroke-width="1.1" fill="none" />
<circle cx="670.3" cy="550.2" r="9.7" stroke="#1c1c1c" stroke-width="1.25" fill="none" stroke-dasharray="3 1.9"/>
<path d="M670.3,537.6 V563 M657.8,550.2 H683" stroke="#1c1c1c" stroke-width="1.1" fill="none" />
<path d="M648.4,531.2 H657.6 M653,526.6 V535.8" stroke="#222" stroke-width="0.9" fill="none" />
<circle cx="653.0" cy="531.2" r="2.3" stroke="#1c1c1c" stroke-width="1.3" fill="#fff" />
<path d="M651.8,531.2 H654.2 M653,530 V532.4" stroke="#222" stroke-width="0.7" fill="none" />
<path d="M683.3,531.2 H692.5 M687.9,526.6 V535.8" stroke="#222" stroke-width="0.9" fill="none" />
<circle cx="687.9" cy="531.2" r="2.3" stroke="#1c1c1c" stroke-width="1.3" fill="#fff" />
<path d="M686.6999999999999,531.2 H689.1 M687.9,530 V532.4" stroke="#222" stroke-width="0.7" fill="none" />
<line x1="595.7" y1="525.1" x2="648.5" y2="525.1" stroke="#3a3a3a" stroke-width="0.9" />
<line x1="595.7" y1="589.8" x2="626.2" y2="589.8" stroke="#3a3a3a" stroke-width="0.9" />
<line x1="602.8" y1="532.6" x2="602.8" y2="548.5" stroke="#3a3a3a" stroke-width="0.9" />
<line x1="602.8" y1="566.0" x2="602.8" y2="582.0" stroke="#3a3a3a" stroke-width="0.9" />
<polygon points="602.8,525.3 601.1,532.9 604.5,532.9" fill="#1c1c1c"/>
<polygon points="602.8,589.5 601.1,581.9 604.5,581.9" fill="#1c1c1c"/>
<text x="601.3" y="562.6" font-size="16" text-anchor="middle" textLength="27.2" lengthAdjust="spacingAndGlyphs" fill="#2a2a2a" font-weight="normal">355</text>
<line x1="635.3" y1="589.8" x2="704.4" y2="589.8" stroke="#222" stroke-width="1.2" />
<path d="M636.0,596.8 L641.4,590 M639.4,596.8 L644.8,590 M642.8,596.8 L648.2,590 M646.2,596.8 L651.6,590 M649.6,596.8 L655.0,590 M653.0,596.8 L658.4,590 M656.4,596.8 L661.8,590 M659.8,596.8 L665.2,590 M663.2,596.8 L668.6,590 M666.6,596.8 L672.0,590 M670.0,596.8 L675.4,590 M673.4,596.8 L678.8,590 M676.8,596.8 L682.2,590 M680.2,596.8 L685.6,590 M683.6,596.8 L689.0,590 M687.0,596.8 L692.4,590 M690.4,596.8 L695.8,590 M693.8,596.8 L699.2,590 M697.2,596.8 L702.6,590" stroke="#111" stroke-width="1.1" fill="none" />
<line x1="695.5" y1="531.2" x2="742.0" y2="531.2" stroke="#3a3a3a" stroke-width="0.9" />
<line x1="712.0" y1="589.8" x2="742.5" y2="589.8" stroke="#3a3a3a" stroke-width="0.9" />
<line x1="736.1" y1="539.0" x2="736.1" y2="551.0" stroke="#3a3a3a" stroke-width="0.9" />
<line x1="736.1" y1="569.0" x2="736.1" y2="582.0" stroke="#3a3a3a" stroke-width="0.9" />
<polygon points="736.1,531.6 734.4,539.2 737.8,539.2" fill="#1c1c1c"/>
<polygon points="736.1,589.5 734.4,581.9 737.8,581.9" fill="#1c1c1c"/>
<text x="734.3" y="565.9" font-size="16" text-anchor="middle" textLength="27.6" lengthAdjust="spacingAndGlyphs" fill="#2a2a2a" font-weight="normal">320</text>
</svg>
</body></html>
